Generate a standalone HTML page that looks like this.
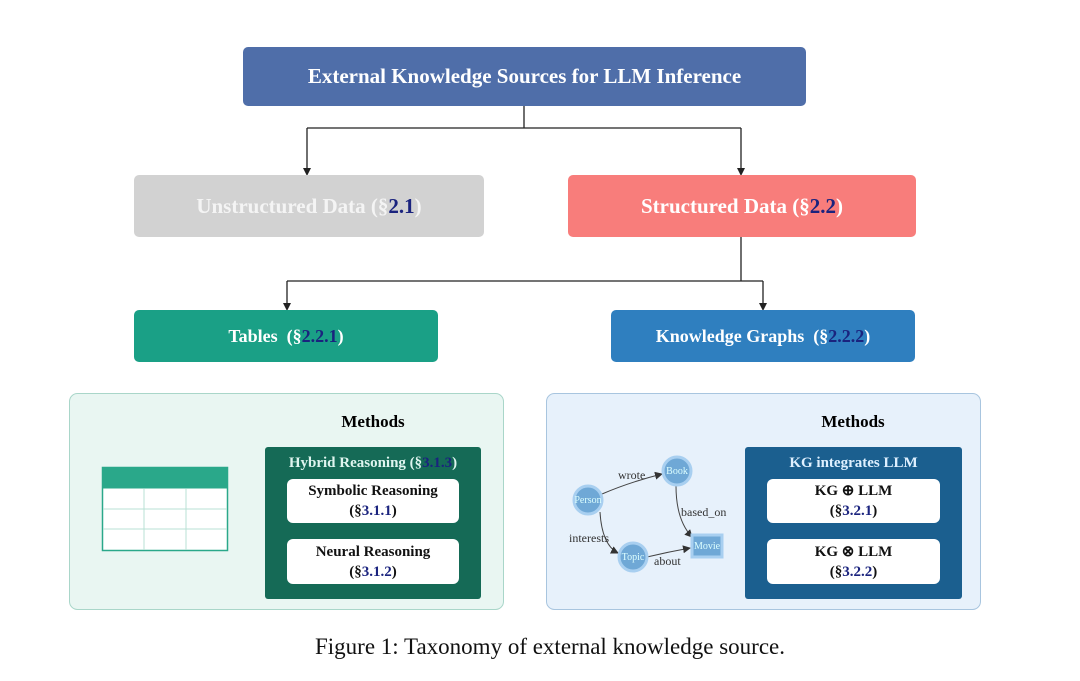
<!DOCTYPE html>
<html><head><meta charset="utf-8"><style>
body{margin:0;width:1080px;height:681px;background:#fff;font-family:"Liberation Serif",serif;position:relative;overflow:hidden}
.b{position:absolute;display:flex;align-items:center;justify-content:center;color:#fff;font-weight:bold;border-radius:5px;box-sizing:border-box;text-align:center}
.n{color:#1a237e}
.w{position:absolute;background:#fff;border-radius:6px;color:#111;font-weight:bold;font-size:15px;text-align:center;line-height:20px;display:flex;align-items:center;justify-content:center;flex-direction:column}
</style></head><body>
<svg style="position:absolute;left:0;top:0" width="1080" height="681">
<defs><marker id="s" markerWidth="8" markerHeight="8" refX="7" refY="4" orient="auto" markerUnits="userSpaceOnUse"><path d="M0,0 L8,4 L0,8" fill="#333"/></marker></defs>
<g stroke="#222" stroke-width="1.3" fill="none">
<path d="M524,106 V128 M307,128 H741 M307,128 V170 M741,128 V170"/>
<path d="M741,237 V281 M287,281 H763 M287,281 V305 M763,281 V305"/>
</g>
<g fill="#222">
<path d="M303,168 L311,168 L307,176Z"/><path d="M737,168 L745,168 L741,176Z"/>
<path d="M283,303 L291,303 L287,311Z"/><path d="M759,303 L767,303 L763,311Z"/>
</g>
<rect x="69.5" y="393.5" width="434" height="216" rx="8" fill="#e9f6f2" stroke="#a9d6c9"/>
<rect x="546.5" y="393.5" width="434" height="216" rx="8" fill="#e7f1fb" stroke="#a8c5df"/>
<rect x="102.5" y="467.5" width="125" height="83" fill="#fff" stroke="#2aa88a" stroke-width="1.5"/>
<rect x="102.5" y="467.5" width="125" height="21" fill="#2aa88a"/>
<g stroke="#b9e0d4"><path d="M144,489V550 M186,489V550 M103,509H227 M103,529H227"/></g>
<g stroke="#444" stroke-width="1" fill="none">
<path d="M602,494 Q630,482 662,474" marker-end="url(#s)"/>
<path d="M600,512 Q602,545 618,553" marker-end="url(#s)"/>
<path d="M676,486 Q676,520 692,537" marker-end="url(#s)"/>
<path d="M647,557 Q668,552 690,548" marker-end="url(#s)"/>
</g>
<g fill="#6fa8d6" stroke="#a8cff0" stroke-width="3">
<circle cx="588" cy="500" r="14"/><circle cx="677" cy="471" r="14"/><circle cx="633" cy="557" r="14"/>
<rect x="692" y="535" width="30" height="22"/></g>
<g font-size="10" fill="#dff" font-family="Liberation Serif" text-anchor="middle">
<text x="588" y="503">Person</text><text x="677" y="474">Book</text><text x="633" y="560">Topic</text><text x="707" y="549">Movie</text></g>
<g font-size="12" fill="#333" font-family="Liberation Serif">
<text x="618" y="479">wrote</text><text x="681" y="516">based_on</text><text x="569" y="542">interests</text><text x="654" y="565">about</text></g>
</svg>
<div class="b" style="left:243px;top:47px;width:563px;height:59px;background:#4f6ea9;font-size:21px">External Knowledge Sources for LLM Inference</div>
<div class="b" style="left:134px;top:175px;width:350px;height:62px;background:#d2d2d2;font-size:21px;color:#f4f4f4">Unstructured Data (§<span class="n">2.1</span>)</div>
<div class="b" style="left:568px;top:175px;width:348px;height:62px;background:#f87d7b;font-size:21px">Structured Data (§<span class="n">2.2</span>)</div>
<div class="b" style="left:134px;top:310px;width:304px;height:52px;background:#1aa086;font-size:18px">Tables &nbsp;(§<span class="n">2.2.1</span>)</div>
<div class="b" style="left:611px;top:310px;width:304px;height:52px;background:#2f7fbf;font-size:18px">Knowledge Graphs &nbsp;(§<span class="n">2.2.2</span>)</div>
<div style="position:absolute;left:323px;top:412px;width:100px;text-align:center;font-weight:bold;font-size:17px">Methods</div>
<div style="position:absolute;left:803px;top:412px;width:100px;text-align:center;font-weight:bold;font-size:17px">Methods</div>
<div style="position:absolute;left:265px;top:447px;width:216px;height:152px;background:#156a56;border-radius:3px"></div>
<div style="position:absolute;left:265px;top:455px;width:216px;text-align:center;color:#dff5ef;font-weight:bold;font-size:15px">Hybrid Reasoning (§<span class="n">3.1.3</span>)</div>
<div class="w" style="left:287px;top:479px;width:172px;height:44px">Symbolic Reasoning<span>(§<span class="n">3.1.1</span>)</span></div>
<div class="w" style="left:287px;top:539px;width:172px;height:45px">Neural Reasoning<span>(§<span class="n">3.1.2</span>)</span></div>
<div style="position:absolute;left:745px;top:447px;width:217px;height:152px;background:#1b5f8f;border-radius:3px"></div>
<div style="position:absolute;left:745px;top:455px;width:217px;text-align:center;color:#dff0ff;font-weight:bold;font-size:15px">KG integrates LLM</div>
<div class="w" style="left:767px;top:479px;width:173px;height:44px">KG ⊕ LLM<span>(§<span class="n">3.2.1</span>)</span></div>
<div class="w" style="left:767px;top:539px;width:173px;height:45px">KG ⊗ LLM<span>(§<span class="n">3.2.2</span>)</span></div>
<div style="position:absolute;left:0;top:634px;width:1100px;text-align:center;font-size:23px;color:#111">Figure 1: Taxonomy of external knowledge source.</div>
</body></html>
